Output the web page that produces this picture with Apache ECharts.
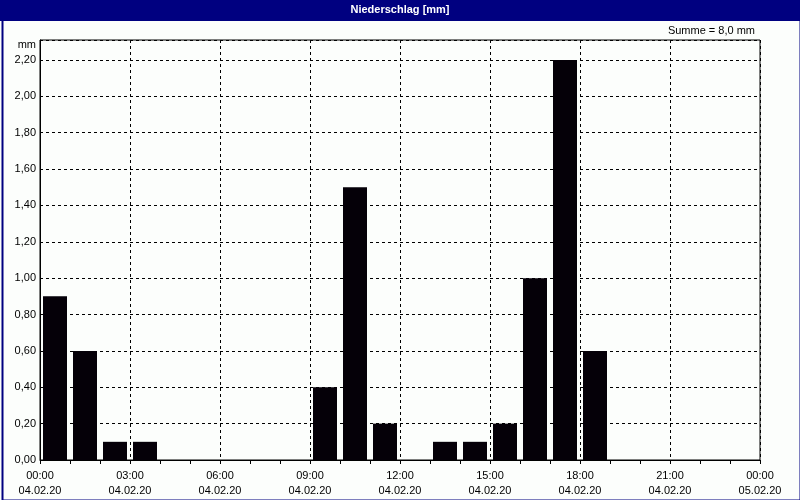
<!DOCTYPE html>
<html>
<head>
<meta charset="utf-8">
<script src="https://cdn.jsdelivr.net/npm/echarts@6/dist/echarts.min.js"></script>
<style>
html,body{margin:0;padding:0;background:#fcfefc;}
#chart{width:800px;height:500px;}
</style>
</head>
<body>
<div id="chart"></div>
<script>
// Data
var hourCenters = [0.5, 1.5, 2.5, 3.5, 9.5, 10.5, 11.5, 13.5, 14.5, 15.5, 16.5, 17.5, 18.5];
var precipitation = [0.9, 0.6, 0.1, 0.1, 0.4, 1.5, 0.2, 0.1, 0.1, 0.2, 1.0, 2.2, 0.6];
var tickHours = [0, 3, 6, 9, 12, 15, 18, 21, 24];
var timeLabels = ['00:00', '03:00', '06:00', '09:00', '12:00', '15:00', '18:00', '21:00', '00:00'];
var dateLabels = ['04.02.20', '04.02.20', '04.02.20', '04.02.20', '04.02.20', '04.02.20', '04.02.20', '04.02.20', '05.02.20'];
var chartTitle = 'Niederschlag [mm]';
var unit = 'mm';

var total = precipitation.reduce(function (a, b) { return a + b; }, 0);
var sumText = 'Summe = ' + total.toFixed(1).replace('.', ',') + ' mm';

var font = 'Liberation Sans, Arial, sans-serif';
var chart = echarts.init(document.getElementById('chart'));
chart.setOption({
  backgroundColor: '#fcfefc',
  animation: false,
  textStyle: { fontFamily: font },
  graphic: [
    { type: 'rect', left: 0, top: 0, shape: { width: 800, height: 21 }, style: { fill: '#000080' }, z: 0 },
    { type: 'rect', left: 0, top: 0, shape: { x: 1, y: 1, width: 798, height: 498 }, style: { fill: 'none', stroke: '#000080', lineWidth: 2 }, z: 0 },
    { type: 'text', left: 'center', top: 4, style: { text: chartTitle, fill: '#ffffff', font: 'bold 11px ' + font }, z: 10 },
    { type: 'text', right: 45, top: 25, style: { text: sumText, fill: '#000000', font: '11px ' + font }, z: 10 },
    { type: 'text', right: 764, top: 39, style: { text: unit, fill: '#000000', font: '11px ' + font, textAlign: 'right' }, z: 10 }
  ],
  grid: { left: 40, right: 40, top: 40, bottom: 40, show: true, borderColor: '#000000', borderWidth: 1, backgroundColor: 'transparent' },
  xAxis: {
    type: 'value', min: 0, max: 24, interval: 3,
    axisLine: { show: true, lineStyle: { color: '#000000', width: 1 } },
    axisTick: { show: true, length: 4, lineStyle: { color: '#000000' } },
    minorTick: { show: true, splitNumber: 3, length: 4, lineStyle: { color: '#000000' } },
    splitLine: { show: true, lineStyle: { color: '#000000', type: [3, 3], width: 1 } },
    axisLabel: {
      color: '#000000', fontSize: 11, lineHeight: 15, margin: 8,
      formatter: function (v) {
        var i = tickHours.indexOf(Math.round(v));
        return i < 0 ? '' : timeLabels[i] + '\n' + dateLabels[i];
      }
    }
  },
  yAxis: {
    type: 'value', min: 0, max: 2.31, interval: 0.2,
    axisLine: { show: true, lineStyle: { color: '#000000' } },
    axisTick: { show: false },
    splitLine: { show: true, lineStyle: { color: '#000000', type: [3, 3], width: 1 } },
    axisLabel: {
      color: '#000000', fontSize: 11, margin: 4,
      formatter: function (v) {
        var k = v / 0.2;
        return Math.abs(k - Math.round(k)) < 1e-6 ? v.toFixed(2).replace('.', ',') : '';
      }
    }
  },
  series: [{
    type: 'bar',
    barWidth: 24,
    itemStyle: { color: '#050008' },
    data: hourCenters.map(function (h, i) { return [h, precipitation[i]]; })
  }]
});
</script>
</body>
</html>
